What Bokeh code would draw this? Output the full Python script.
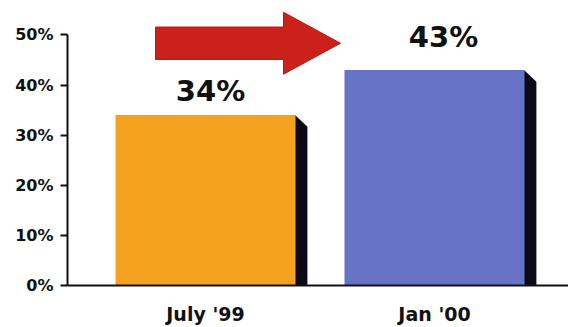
from bokeh.plotting import figure
from bokeh.models import ColumnDataSource, Range1d, FixedTicker, BoxAnnotation
from bokeh.core.properties import value
from bokeh.embed import file_html
from bokeh.resources import INLINE

# ---- data ----
categories = ["July '99", "Jan '00"]
shares = [34, 43]
value_labels = ["34%", "43%"]
y_ticks = [0, 10, 20, 30, 40, 50]
y_tick_labels = ["0%", "10%", "20%", "30%", "40%", "50%"]

# ---- styles / layout ----
bar_colors = ["#f4a11f", "#6673c6"]
shadow_color = "#0c0a16"
label_dx = [5, 9]
label_dy = [-24, -33]
FONT = value("DejaVu Sans")
INK = "#111111"

BAR_W = 0.786
SIDE_W = 0.052
BEVEL = 2.35

# decorative arrow geometry (data units)
ARROW_X0, ARROW_NECK, ARROW_TIP = -0.2183, 0.3406, 0.5895
ARROW_Y, SHAFT_H, HEAD_H = 48.33, 3.235, 6.18

xs = list(range(len(categories)))
src = ColumnDataSource(dict(x=xs, top=shares, color=bar_colors,
                            label=value_labels, dx=label_dx, dy=label_dy))

p = figure(width=568, height=327,
           x_range=Range1d(-0.6026, 1.5852), y_range=Range1d(0, 56.86),
           output_backend="svg", toolbar_location=None,
           min_border_left=67, min_border_right=0,
           min_border_top=0, min_border_bottom=37)
p.outline_line_color = None
p.xgrid.grid_line_color = None
p.ygrid.grid_line_color = None
p.background_fill_color = "white"

# side shadows
sx, sy = [], []
for x, t in zip(xs, shares):
    r = x + BAR_W / 2
    sx.append([r - 0.002, r + SIDE_W, r + SIDE_W, r - 0.002])
    sy.append([t, t - BEVEL, 0, 0])
p.patches(sx, sy, fill_color=shadow_color, line_color=None)

# bars
p.vbar(x="x", top="top", bottom=0, width=BAR_W, fill_color="color",
       line_color=None, source=src)

# value labels
p.text(x="x", y="top", text="label", x_offset="dx", y_offset="dy",
       text_align="center", text_baseline="alphabetic", text_font=FONT,
       text_font_style="bold", text_font_size="29px", text_color=INK,
       source=src)

# red arrow
ax = [ARROW_X0, ARROW_NECK, ARROW_NECK, ARROW_TIP, ARROW_NECK, ARROW_NECK, ARROW_X0]
ay = [ARROW_Y + SHAFT_H, ARROW_Y + SHAFT_H, ARROW_Y + HEAD_H, ARROW_Y,
      ARROW_Y - HEAD_H, ARROW_Y - SHAFT_H, ARROW_Y - SHAFT_H]
p.patch(ax, ay, fill_color="#cc211a", line_color="#b51a15", line_width=1)

# stub of the baseline that runs left past the y axis
p.add_layout(BoxAnnotation(left=50, right=67, top=289, bottom=291,
                           left_units="canvas", right_units="canvas",
                           top_units="canvas", bottom_units="canvas",
                           fill_color=INK, fill_alpha=1, line_color=None))

# x axis
xa = p.xaxis[0]
xa.ticker = FixedTicker(ticks=xs)
xa.major_label_overrides = dict(zip(xs, categories))
xa.major_tick_line_color = None
xa.minor_tick_line_color = None
xa.axis_line_width = 2
xa.axis_line_color = INK
xa.major_label_standoff = 11
xa.major_label_text_font = "DejaVu Sans"
xa.major_label_text_font_style = "bold"
xa.major_label_text_font_size = "19px"
xa.major_label_text_color = INK

# y axis
ya = p.yaxis[0]
ya.ticker = FixedTicker(ticks=y_ticks)
ya.major_label_overrides = dict(zip(y_ticks, y_tick_labels))
ya.bounds = (0, 50)
ya.major_tick_out = 7
ya.major_tick_in = 0
ya.major_tick_line_width = 2
ya.major_tick_line_color = INK
ya.minor_tick_line_color = None
ya.axis_line_width = 2
ya.axis_line_color = INK
ya.major_label_standoff = 7
ya.major_label_text_font = "DejaVu Sans"
ya.major_label_text_font_style = "bold"
ya.major_label_text_font_size = "16px"
ya.major_label_text_color = INK

open("out.html", "w").write(file_html(p, INLINE))
